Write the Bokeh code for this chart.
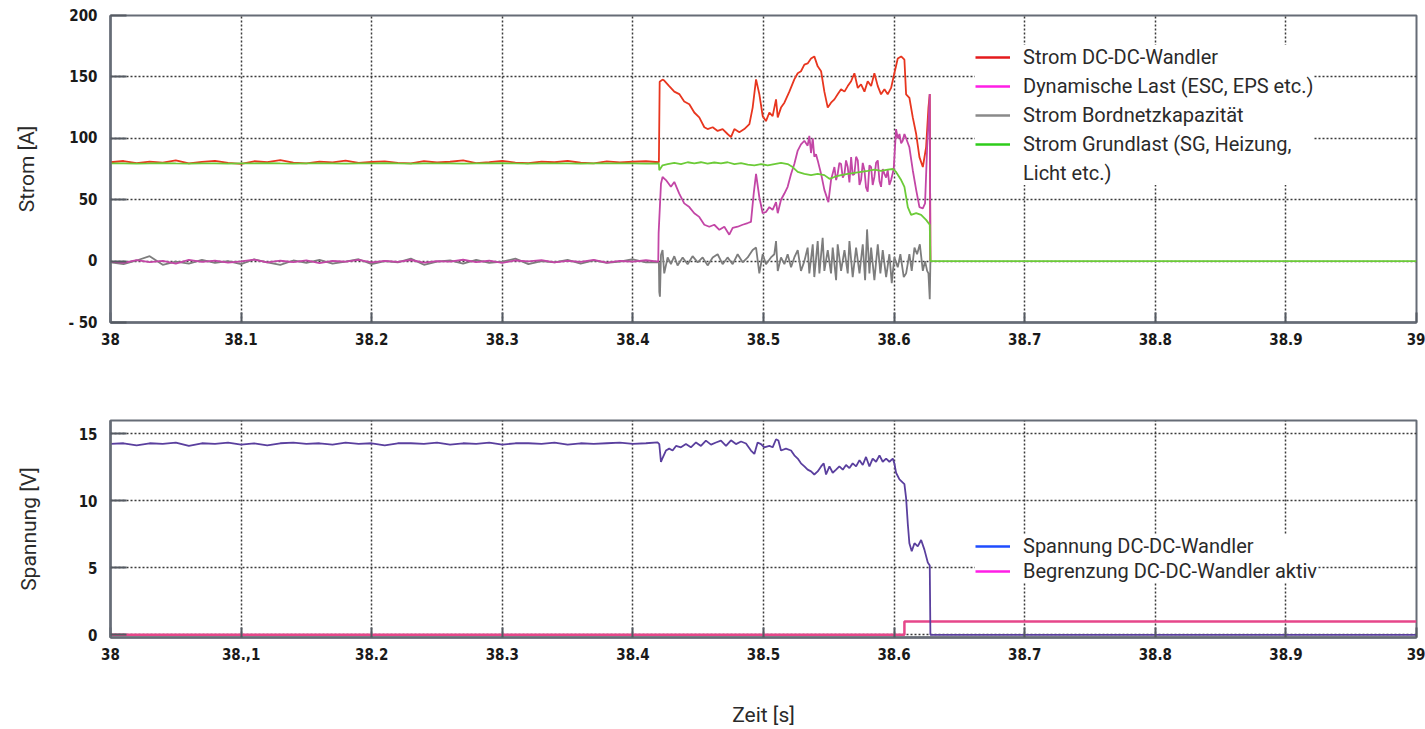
from bokeh.plotting import figure
from bokeh.models import Range1d, FixedTicker, LinearAxis, Legend, LegendItem, ColumnDataSource
from bokeh.layouts import column
from bokeh.embed import file_html
from bokeh.resources import INLINE

# ---------------- data ----------------
x_ticks = [38.0, 38.1, 38.2, 38.3, 38.4, 38.5, 38.6, 38.7, 38.8, 38.9, 39.0]
x_labels_top = ["38", "38.1", "38.2", "38.3", "38.4", "38.5", "38.6", "38.7", "38.8", "38.9", "39"]
x_labels_bottom = ["38", "38.,1", "38.2", "38.3", "38.4", "38.5", "38.6", "38.7", "38.8", "38.9", "39"]
y_ticks_top = [-50, 0, 50, 100, 150, 200]
y_labels_top = ["- 50", "0", "50", "100", "150", "200"]
y_ticks_bottom = [0, 5, 10, 15]
y_labels_bottom = ["0", "5", "10", "15"]

series_names_top = ["Strom DC-DC-Wandler", "Dynamische Last (ESC, EPS etc.)",
                    "Strom Bordnetzkapazität", "Strom Grundlast (SG, Heizung,", "Licht etc.)"]
series_names_bottom = ["Spannung DC-DC-Wandler", "Begrenzung DC-DC-Wandler aktiv"]

# time stamps of the quiet phase (s)
pre_t = [38.00, 38.01, 38.02, 38.03, 38.04, 38.05, 38.06, 38.07, 38.08, 38.09,
         38.10, 38.11, 38.12, 38.13, 38.14, 38.15, 38.16, 38.17, 38.18, 38.19,
         38.20, 38.21, 38.22, 38.23, 38.24, 38.25, 38.26, 38.27, 38.28, 38.29,
         38.30, 38.31, 38.32, 38.33, 38.34, 38.35, 38.36, 38.37, 38.38, 38.39,
         38.40, 38.41]
red_pre = [80.5, 81.5, 79.8, 81.0, 80.2, 82.0, 79.5, 80.8, 81.6, 80.0, 79.2, 81.3, 80.6, 82.2,
           80.1, 79.6, 81.0, 80.4, 81.8, 79.9, 80.7, 81.2, 80.0, 79.5, 81.4, 80.3, 80.9, 82.1,
           79.8, 80.6, 81.5, 80.2, 79.7, 81.0, 80.5, 81.7, 80.1, 79.6, 81.2, 80.4, 80.9, 81.3]
green_pre = [79.5, 79.6, 79.4, 79.5, 79.7, 79.5, 79.4, 79.6, 79.5, 79.4, 79.6, 79.5, 79.7, 79.5,
             79.4, 79.5, 79.6, 79.5, 79.4, 79.6, 79.5, 79.7, 79.5, 79.4, 79.5, 79.6, 79.5, 79.4,
             79.6, 79.5, 79.7, 79.5, 79.4, 79.5, 79.6, 79.5, 79.4, 79.6, 79.5, 79.5, 79.6, 79.4]
mag_pre = [-0.5, -1.5, 0.8, -0.8, 0.2, -2.0, 1.0, -0.6, 0.4, -1.2, -0.2, 1.2, -1.0, 0.3,
           -0.8, 0.6, -1.6, 0.1, -0.4, 1.0, -1.1, 0.2, -0.7, 0.9, -1.3, 0.0, -0.5, 1.1,
           -0.9, 0.3, -1.4, 0.5, -0.3, 0.8, -1.0, 0.2, -0.6, 1.0, -1.2, 0.1, -0.4, 0.7]
gray_pre = [-1.0, -2.5, 0.5, 4.0, -3.0, -0.5, -2.0, 1.0, -1.5, 0.0, -2.5, 1.5, -1.0, -3.0,
            0.5, -1.5, 1.0, -2.0, -0.5, 1.5, -2.5, 0.0, -1.0, 2.0, -3.0, -0.5, 0.5, -2.0,
            1.0, -1.5, -0.5, 2.0, -2.5, 0.0, -1.0, 1.0, -2.0, 0.5, -1.5, -0.5, 1.5, -1.0]
volt_pre = [14.25, 14.3, 14.15, 14.3, 14.25, 14.35, 14.1, 14.3, 14.25, 14.35, 14.2, 14.3, 14.15,
            14.3, 14.35, 14.25, 14.3, 14.2, 14.35, 14.25, 14.3, 14.15, 14.3, 14.3, 14.25, 14.35,
            14.2, 14.3, 14.25, 14.35, 14.2, 14.3, 14.3, 14.25, 14.35, 14.2, 14.3, 14.25, 14.3,
            14.35, 14.25, 14.3]

# event phase (time s, value)
red_event = [(38.4199, 80.5), (38.4205, 146), (38.4227, 147.8), (38.4240, 147), (38.4278, 142.5),
             (38.4317, 138), (38.4355, 136), (38.4393, 130), (38.4432, 127.7), (38.4470, 121),
             (38.4508, 117), (38.4547, 109), (38.4572, 107.5), (38.4611, 109), (38.4649, 106),
             (38.4687, 107.5), (38.4725, 103.5), (38.4751, 101), (38.4777, 107.5), (38.4815, 105),
             (38.4853, 107.5), (38.4892, 111.5), (38.4917, 125), (38.4943, 148), (38.4968, 136),
             (38.4994, 118), (38.5019, 114), (38.5045, 121), (38.5070, 118), (38.5096, 131.7),
             (38.5109, 117), (38.5134, 125), (38.5160, 129), (38.5198, 138), (38.5236, 148),
             (38.5262, 153), (38.5287, 154.6), (38.5313, 160), (38.5338, 161), (38.5364, 165),
             (38.5389, 166.7), (38.5415, 158.6), (38.5441, 154.6), (38.5466, 138), (38.5492, 125),
             (38.5517, 129), (38.5543, 131.7), (38.5568, 135.8), (38.5594, 140), (38.5620, 138),
             (38.5645, 142.5), (38.5671, 146.5), (38.5696, 153), (38.5722, 141), (38.5747, 144),
             (38.5773, 138), (38.5798, 146.5), (38.5824, 142.5), (38.5849, 153), (38.5875, 142.5),
             (38.5900, 135.8), (38.5926, 140), (38.5951, 135.8), (38.5977, 141), (38.6002, 153),
             (38.6028, 165), (38.6054, 166.7), (38.6079, 164), (38.6092, 135.8), (38.6117, 133),
             (38.6143, 117), (38.6169, 103.5), (38.6194, 84.7), (38.6220, 76.6), (38.6245, 92.7),
             (38.6263, 125), (38.6273, 136), (38.6278, 0)]
mag_event = [(38.4194, -0.5), (38.4197, 22.8), (38.4215, 63), (38.4227, 68.5), (38.4253, 66),
             (38.4291, 60.5), (38.4317, 64.5), (38.4355, 55), (38.4393, 47), (38.4432, 44),
             (38.4470, 39), (38.4508, 36), (38.4547, 29.6), (38.4585, 28), (38.4623, 29.6),
             (38.4662, 25.5), (38.4700, 28), (38.4738, 21.5), (38.4764, 27), (38.4802, 28),
             (38.4840, 29.6), (38.4879, 31), (38.4904, 32), (38.4925, 55), (38.4943, 71),
             (38.4968, 52), (38.4994, 39), (38.5019, 40), (38.5045, 44), (38.5070, 41.7),
             (38.5096, 48), (38.5109, 39), (38.5134, 50), (38.5160, 55), (38.5185, 60.5),
             (38.5211, 71), (38.5236, 79), (38.5262, 90), (38.5287, 95), (38.5313, 98),
             (38.5338, 94), (38.5351, 102), (38.5364, 88), (38.5377, 100), (38.5389, 85),
             (38.5402, 87), (38.5415, 82), (38.5441, 71), (38.5466, 58), (38.5497, 48),
             (38.5517, 66), (38.5543, 76.6), (38.5556, 66), (38.5568, 71), (38.5581, 80),
             (38.5594, 79), (38.5607, 68), (38.5620, 71), (38.5632, 82), (38.5645, 76.6),
             (38.5658, 64), (38.5671, 84.7), (38.5683, 70), (38.5696, 71), (38.5709, 85),
             (38.5722, 82), (38.5735, 62), (38.5747, 66), (38.5760, 80), (38.5773, 74),
             (38.5785, 60), (38.5798, 56.5), (38.5811, 78), (38.5824, 76.6), (38.5836, 62),
             (38.5849, 68.5), (38.5862, 80), (38.5875, 82), (38.5888, 65), (38.5900, 60.5),
             (38.5913, 75), (38.5926, 71), (38.5939, 68), (38.5951, 74), (38.5964, 62),
             (38.5977, 66), (38.5997, 75), (38.6015, 107.5), (38.6028, 100), (38.6041, 103.5),
             (38.6054, 96), (38.6066, 98), (38.6079, 103.5), (38.6092, 100), (38.6117, 92.7),
             (38.6143, 74), (38.6169, 58), (38.6194, 44), (38.6220, 43), (38.6237, 47),
             (38.6253, 92.7), (38.6263, 111.5), (38.6273, 136), (38.6278, 0)]
green_event = [(38.4199, 79.5), (38.4202, 74), (38.4227, 78), (38.4266, 79), (38.4317, 80),
               (38.4368, 79), (38.4419, 80.5), (38.4470, 79.5), (38.4521, 80.5), (38.4572, 79.3),
               (38.4623, 80.3), (38.4674, 79.5), (38.4725, 80.5), (38.4777, 79), (38.4828, 79.8),
               (38.4879, 78.5), (38.4930, 78), (38.4981, 79), (38.5032, 78), (38.5083, 79),
               (38.5134, 80), (38.5185, 79), (38.5223, 76.6), (38.5262, 72.6), (38.5313, 71),
               (38.5364, 70), (38.5415, 71), (38.5466, 70), (38.5505, 67), (38.5543, 68.5),
               (38.5594, 70), (38.5645, 71), (38.5696, 71.8), (38.5747, 72.6), (38.5798, 73.4),
               (38.5849, 74.5), (38.5900, 73.4), (38.5951, 74.5), (38.5990, 75), (38.6015, 72.6),
               (38.6054, 66), (38.6079, 60.5), (38.6105, 44), (38.6130, 37.6), (38.6169, 39),
               (38.6207, 37.6), (38.6245, 33.6), (38.6273, 29.6), (38.6278, 0), (39.0, 0)]
gray_event = [(38.4199, -1), (38.4202, -25), (38.4207, -29), (38.4215, 5), (38.4227, 9),
              (38.4240, -10), (38.4266, 3), (38.4291, -2.5), (38.4317, 4), (38.4342, -3.5),
              (38.4381, 3), (38.4419, -2.5), (38.4457, 4), (38.4496, -1), (38.4534, 3),
              (38.4572, -3.5), (38.4611, 3), (38.4649, 5.6), (38.4687, -2.5), (38.4725, 3),
              (38.4764, -2.5), (38.4802, 5.6), (38.4840, -1), (38.4879, 3), (38.4917, 9),
              (38.4943, 11), (38.4968, -10), (38.4994, 5.6), (38.5019, -2.5), (38.5057, 3),
              (38.5083, 5.6), (38.5096, 16.3), (38.5109, -8), (38.5134, 3), (38.5160, -2.5),
              (38.5185, 5.6), (38.5211, -5), (38.5236, 3), (38.5262, 9), (38.5287, -8),
              (38.5313, 0), (38.5338, 11), (38.5351, -10), (38.5377, 13.7), (38.5389, -13),
              (38.5415, 16.3), (38.5428, -10), (38.5453, 19), (38.5466, -8), (38.5492, 9),
              (38.5517, -10), (38.5530, 11), (38.5556, -15.5), (38.5568, 13.7), (38.5594, -8),
              (38.5620, 9), (38.5645, -10), (38.5658, 16.3), (38.5683, -13), (38.5709, 11),
              (38.5735, -10), (38.5760, 13.7), (38.5778, -15.5), (38.5793, 25.8), (38.5811, -10),
              (38.5824, 11), (38.5849, -15.5), (38.5875, 13.7), (38.5895, -10), (38.5913, 9),
              (38.5939, -13), (38.5964, 5.6), (38.5982, -18), (38.6002, 3), (38.6028, -5),
              (38.6048, 5.6), (38.6074, -13), (38.6092, -10), (38.6117, 5.6), (38.6135, -8),
              (38.6156, 11), (38.6176, 5.6), (38.6197, 13.7), (38.6220, -8), (38.6237, 0),
              (38.6253, -8), (38.6263, -10), (38.6273, -31), (38.6278, 0)]
volt_event = [(38.4189, 14.36), (38.4202, 14.24), (38.4215, 12.9), (38.4227, 13.2), (38.4253, 13.76),
              (38.4278, 13.9), (38.4304, 13.76), (38.4330, 14.1), (38.4368, 14.0), (38.4406, 14.24),
              (38.4444, 14.0), (38.4483, 14.36), (38.4521, 14.1), (38.4559, 14.5), (38.4598, 14.2),
              (38.4636, 14.36), (38.4674, 14.5), (38.4713, 14.1), (38.4751, 14.52), (38.4789, 14.24),
              (38.4828, 14.43), (38.4866, 14.28), (38.4904, 13.76), (38.4930, 13.5), (38.4955, 14.36),
              (38.4981, 14.24), (38.5006, 14.0), (38.5045, 14.1), (38.5070, 14.0), (38.5096, 14.6),
              (38.5114, 14.5), (38.5134, 13.76), (38.5172, 13.9), (38.5211, 13.76), (38.5236, 13.4),
              (38.5262, 13.16), (38.5287, 12.8), (38.5313, 12.57), (38.5338, 12.33), (38.5364, 12.2),
              (38.5389, 11.97), (38.5415, 12.2), (38.5441, 12.57), (38.5461, 12.8), (38.5479, 11.97),
              (38.5505, 12.57), (38.5530, 12.1), (38.5556, 12.33), (38.5581, 12.57), (38.5607, 12.33),
              (38.5632, 12.68), (38.5658, 12.45), (38.5683, 12.8), (38.5709, 12.57), (38.5735, 13.04),
              (38.5760, 12.68), (38.5785, 13.28), (38.5811, 12.57), (38.5836, 13.16), (38.5862, 12.92),
              (38.5888, 13.4), (38.5913, 12.92), (38.5939, 13.16), (38.5964, 12.92), (38.5990, 13.16),
              (38.6002, 12.8), (38.6015, 12.1), (38.6041, 11.6), (38.6079, 11.25), (38.6092, 10.2),
              (38.6105, 8.27), (38.6117, 6.84), (38.6135, 6.24), (38.6156, 6.84), (38.6181, 6.6),
              (38.6207, 7.08), (38.6232, 6.36), (38.6258, 5.4), (38.6273, 5.17), (38.6278, 0),
              (39.0, 0)]
limit_t = [38.0, 38.6079, 38.6079, 39.0]
limit_v = [0, 0, 1, 1]

# ---------------- styling ----------------
TICK_FONT = "'DejaVu Sans Condensed', 'DejaVu Sans', sans-serif"
LABEL_FONT = "Roboto, sans-serif"
FRAME = "#666c76"
GRID = "#3a3a3a"

C_RED, C_MAG, C_GRAY, C_GREEN = "#e8361f", "#c346a6", "#7d7d7d", "#6ccb38"
L_RED, L_MAG, L_GRAY, L_GREEN = "#e41a1c", "#ff1ee6", "#8a8a8a", "#2ecc1a"
C_VOLT, C_LIMIT = "#5a3f9e", "#e6478a"
L_VOLT, L_LIMIT = "#1f4cff", "#ff1ee6"


def series(pre_vals, event):
    t = list(pre_t) + [p[0] for p in event]
    v = list(pre_vals) + [p[1] for p in event]
    return ColumnDataSource(dict(t=t, v=v))


def style(p, yticks, ylabels, xlabels, ylabel):
    p.xaxis.visible = False
    p.yaxis.visible = False
    ax = LinearAxis(ticker=FixedTicker(ticks=x_ticks),
                    major_label_overrides={k: s for k, s in zip(x_ticks, xlabels)})
    ay = LinearAxis(ticker=FixedTicker(ticks=yticks),
                    major_label_overrides={k: s for k, s in zip(yticks, ylabels)},
                    axis_label=ylabel)
    for a in (ax, ay):
        a.axis_line_color = FRAME
        a.axis_line_width = 2.5
        a.major_tick_line_color = "#555a62"
        a.major_tick_line_width = 2
        a.major_tick_out = 0
        a.minor_tick_line_color = None
        a.major_label_text_font = TICK_FONT
        a.major_label_text_font_style = "bold"
        a.major_label_text_font_size = "15px"
        a.major_label_text_color = "#1a1a1a"
        a.axis_label_text_font = LABEL_FONT
        a.axis_label_text_font_style = "normal"
        a.axis_label_text_font_size = "21px"
        a.axis_label_text_color = "#2a2a2a"
    ax.major_tick_in = 10
    ay.major_tick_in = 16
    ax.major_label_standoff = 10
    ay.major_label_standoff = 13
    p.add_layout(ax, "below")
    p.add_layout(ay, "left")
    p.xgrid.ticker = FixedTicker(ticks=x_ticks)
    p.ygrid.ticker = FixedTicker(ticks=yticks)
    for g in (p.xgrid, p.ygrid):
        g.grid_line_color = GRID
        g.grid_line_width = 1.5
        g.grid_line_dash = "2 2"
    p.outline_line_color = FRAME
    p.outline_line_width = 2
    p.background_fill_color = "white"
    p.border_fill_color = "white"
    return ax, ay


# ---------------- top figure ----------------
p1 = figure(width=1425, height=353, x_range=Range1d(38, 39), y_range=Range1d(-50, 200),
            output_backend="svg", toolbar_location=None,
            min_border_left=110, min_border_right=9, min_border_top=15, min_border_bottom=31)
ax1, ay1 = style(p1, y_ticks_top, y_labels_top, x_labels_top, "Strom [A]")
ay1.axis_label_standoff = 26

p1.line("t", "v", source=series(red_pre, red_event), line_color=C_RED, line_width=1.8)
p1.line("t", "v", source=series(gray_pre, gray_event), line_color=C_GRAY, line_width=1.8)
p1.line("t", "v", source=series(mag_pre, mag_event), line_color=C_MAG, line_width=1.8)
p1.line("t", "v", source=series(green_pre, green_event), line_color=C_GREEN, line_width=1.8)

lg = [p1.line([38.0], [0.0], line_color=c, line_width=2.5) for c in (L_RED, L_MAG, L_GRAY, L_GREEN)]
lg.append(p1.line([38.0], [0.0], line_alpha=0))
leg1 = Legend(items=[LegendItem(label=n, renderers=[r]) for n, r in zip(series_names_top, lg)],
              location=(865, 137), glyph_width=35, glyph_height=24, label_height=24, spacing=5,
              label_standoff=13, padding=10, background_fill_color="white", background_fill_alpha=1,
              border_line_color=None, label_text_font=LABEL_FONT, label_text_font_size="20px",
              label_text_color="#2a2a2a", margin=0)
p1.add_layout(leg1, "center")

# ---------------- bottom figure ----------------
p2 = figure(width=1425, height=376, x_range=Range1d(38, 39), y_range=Range1d(-0.2, 16),
            output_backend="svg", toolbar_location=None,
            min_border_left=110, min_border_right=9, min_border_top=67, min_border_bottom=89)
ax2, ay2 = style(p2, y_ticks_bottom, y_labels_bottom, x_labels_bottom, "Spannung [V]")
ax2.axis_label = "Zeit [s]"
ax2.axis_label_standoff = 40
ay2.axis_label_standoff = 35

p2.line(limit_t, limit_v, line_color=C_LIMIT, line_width=2.5)
vsrc = series(volt_pre, volt_event)
p2.line("t", "v", source=vsrc, line_color=C_VOLT, line_width=1.8)

lg2 = [p2.line([38.0], [0.0], line_color=c, line_width=2.5) for c in (L_VOLT, L_LIMIT)]
leg2 = Legend(items=[LegendItem(label=n, renderers=[r]) for n, r in zip(series_names_bottom, lg2)],
              location=(865, 54), glyph_width=35, glyph_height=24, label_height=24, spacing=1,
              label_standoff=13, padding=10, background_fill_color="white", background_fill_alpha=1,
              border_line_color=None, label_text_font=LABEL_FONT, label_text_font_size="20px",
              label_text_color="#2a2a2a", margin=0)
p2.add_layout(leg2, "center")

layout = column(p1, p2, spacing=0)
open("out.html", "w").write(file_html(layout, INLINE))
